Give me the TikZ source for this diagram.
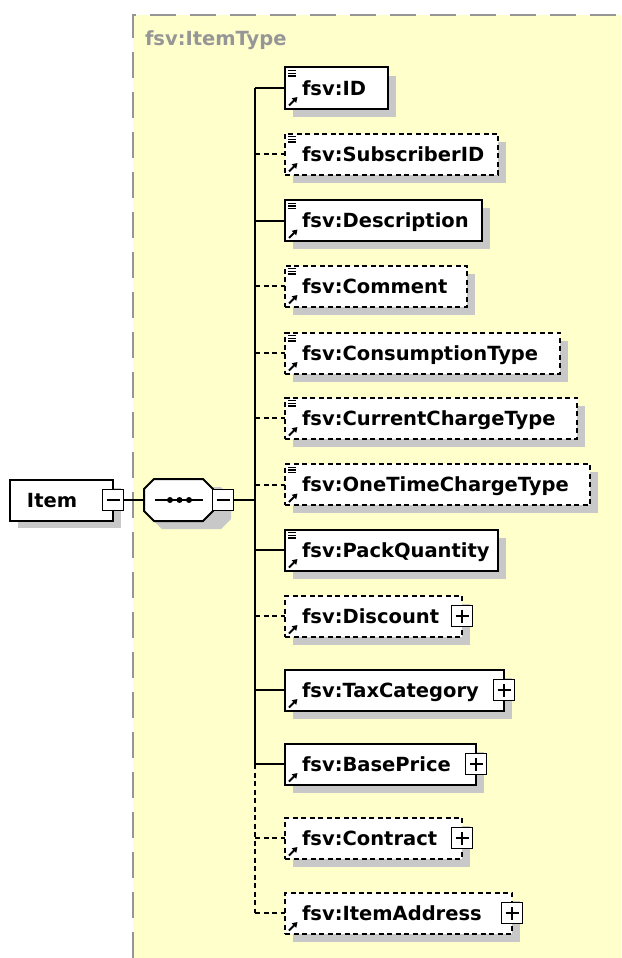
\documentclass[tikz,border=0pt]{standalone}
\usepackage{fontspec}
\setmainfont{DejaVu Sans}
\usetikzlibrary{arrows.meta}
\definecolor{bgyellow}{RGB}{255,255,204}
\definecolor{shadowc}{RGB}{200,200,200}
\definecolor{framegray}{RGB}{150,150,150}
\pgfdeclarelayer{bg}
\pgfsetlayers{bg,main}
\tikzset{
  ebox/.style={draw=black, line width=2pt, fill=white, rectangle, inner sep=0pt, outer sep=0pt, minimum height=41pt, anchor=west},
  opt/.style={dash pattern=on 5pt off 3.5pt},
  req/.style={},
  lbl/.style={font=\fontsize{19.5}{22}\selectfont\bfseries, inner sep=0pt, outer sep=0pt, anchor=base west},
  conn/.style={line width=2pt},
  pmbox/.style={draw=black, line width=1.6pt, fill=white, minimum size=21pt, inner sep=0pt, outer sep=0pt},
  icon/.style={line width=1.3pt},
  ref/.style={line width=2pt, -{Triangle[length=5pt,width=6pt]}},
}
\newcommand\shadowrect[4]{\begin{pgfonlayer}{bg}\fill[shadowc] (#1+8,#2+8) rectangle (#3+8,#4+8);\end{pgfonlayer}}
% #1 name, #2 y centre, #3 right x, #4 text, #5 req/opt, #6 lines icon (1/0), #7 plus (1/0)
\newcommand\elem[7]{%
  \shadowrect{285}{#2-20.5}{#3}{#2+20.5}
  \node[ebox,#5,minimum width=#3-285] (#1) at (285,#2) {};
  \node[lbl] (#1t) at (302,#2+7) {#4};
  \ifnum#6=1
    \draw[icon] (288,#2-17.2) -- (296,#2-17.2);
    \draw[icon] (288,#2-14.6) -- (296,#2-14.6);
    \draw[icon] (288,#2-12) -- (296,#2-12);
  \fi
  \draw[ref] (289,#2+17.5) -- (297.5,#2+9);
  \ifnum#7=1
    \node[pmbox] (#1p) at (#3,#2) {};
    \draw[line width=1.5pt] ([xshift=-6.5pt]#1p.center) -- ([xshift=6.5pt]#1p.center);
    \draw[line width=1.5pt] ([yshift=-6.5pt]#1p.center) -- ([yshift=6.5pt]#1p.center);
  \fi
  \coordinate (#1j) at (255,#2);
  \draw[conn,#5] (#1j) -- (#1);
}
\begin{document}
\begin{tikzpicture}[x=1pt,y=-1pt]
\useasboundingbox (0,0) rectangle (621,958);
\begin{pgfonlayer}{bg}
  \fill[bgyellow] (133,15) rectangle (621,958);
\end{pgfonlayer}
\draw[framegray, line width=2pt, dash pattern=on 26pt off 14pt] (133,958) -- (133,15) -- (621,15);
\node[lbl, text=framegray] (tname) at (145,46) {fsv:ItemType};

% root element
\shadowrect{10}{480}{113}{520}
\node[ebox, minimum width=103pt] (item) at (10,500) {};
\node[lbl] (itemt) at (27,507) {Item};
\node[pmbox] (itemm) at (113,500) {};
\draw[line width=1.5pt] ([xshift=-6.5pt]itemm.center) -- ([xshift=6.5pt]itemm.center);

% sequence compositor
\begin{pgfonlayer}{bg}
  \fill[shadowc] (152,497) -- (162,487) -- (221,487) -- (231,497) -- (231,519) -- (221,529) -- (162,529) -- (152,519) -- cycle;
\end{pgfonlayer}
\draw[line width=2pt, fill=white] (144,489) -- (154,479) -- (203,479) -- (213,489) -- (213,511) -- (203,521) -- (154,521) -- (144,511) -- cycle;
\coordinate (seq) at (144,500);
\draw[line width=1.8pt] (155,500) -- (203,500);
\fill (170,500) circle (3pt) (179.5,500) circle (3pt) (189,500) circle (3pt);
\node[pmbox] (seqm) at (223,500) {};
\draw[line width=1.5pt] ([xshift=-6.5pt]seqm.center) -- ([xshift=6.5pt]seqm.center);
\coordinate (seqj) at (255,500);
\draw[conn] (itemm.east) -- (seq);
\draw[conn] (seqm.east) -- (seqj);

% children
\elem{id}{88}{388}{fsv:ID}{req}{1}{0}
\elem{sub}{154}{498}{fsv:SubscriberID}{opt}{1}{0}
\elem{desc}{220.5}{482}{fsv:Description}{req}{1}{0}
\elem{comm}{286}{467}{fsv:Comment}{opt}{1}{0}
\elem{cons}{353}{560}{fsv:ConsumptionType}{opt}{1}{0}
\elem{curr}{418}{577}{fsv:CurrentChargeType}{opt}{1}{0}
\elem{one}{484.5}{590}{fsv:OneTimeChargeType}{opt}{1}{0}
\elem{pack}{550}{498}{fsv:PackQuantity}{req}{1}{0}
\elem{disc}{616}{462}{fsv:Discount}{opt}{0}{1}
\elem{tax}{690}{504}{fsv:TaxCategory}{req}{0}{1}
\elem{base}{764}{476}{fsv:BasePrice}{req}{0}{1}
\elem{contr}{838}{462}{fsv:Contract}{opt}{0}{1}
\elem{addr}{913}{512}{fsv:ItemAddress}{opt}{0}{1}

% trunk
\draw[conn] (idj) -- (basej);
\draw[conn,opt] (basej) -- (addrj);
\end{tikzpicture}
\end{document}
